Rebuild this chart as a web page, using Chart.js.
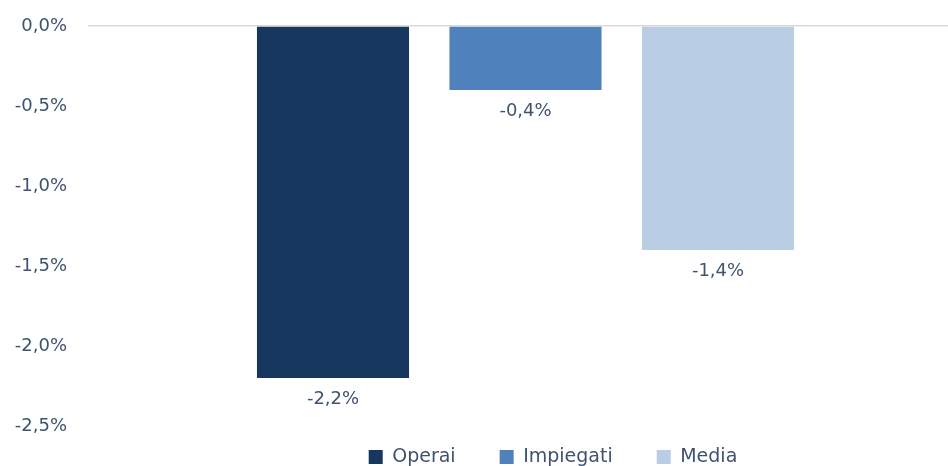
<!DOCTYPE html>
<html>
<head>
<meta charset="utf-8">
<script src="https://cdn.jsdelivr.net/npm/chart.js@4"></script>
<style>
html,body{margin:0;padding:0;background:#fff;overflow:hidden;}
#wrap{width:948px;height:466px;overflow:hidden;}
</style>
</head>
<body>
<div id="wrap"><canvas id="c" width="963" height="466"></canvas></div>
<script>
const categories = [''];
const seriesNames = ['Operai', 'Impiegati', 'Media'];
const operai = [-2.2];
const impiegati = [-0.4];
const media = [-1.4];
const yTicks = [0, -0.5, -1.0, -1.5, -2.0, -2.5];

const colors = ['#17375e', '#4f81bd', '#b9cde5'];
const textColor = '#3f5370';
const fontFamily = '"DejaVu Sans", Verdana, sans-serif';

const fmt = v => (Math.abs(v) < 1e-9 ? 0 : v).toFixed(1).replace('.', ',') + '%';

const labelPlugin = {
  id: 'barLabels',
  afterDatasetsDraw(chart) {
    const ctx = chart.ctx;
    ctx.save();
    ctx.font = '18px ' + fontFamily;
    ctx.fillStyle = textColor;
    ctx.textAlign = 'center';
    ctx.textBaseline = 'middle';
    chart.data.datasets.forEach((ds, i) => {
      const meta = chart.getDatasetMeta(i);
      meta.data.forEach((el, j) => {
        ctx.fillText(fmt(ds.data[j]), el.x, el.y + 21);
      });
    });
    ctx.restore();
  }
};

const legendShift = {
  id: 'legendShift',
  beforeDraw(chart) {
    const lg = chart.legend;
    if (!lg) return;
    const pad = lg.options.labels.padding;
    const targetCenterY = 457;
    const itemH = 19;
    lg.top = targetCenterY - itemH / 2 - pad;
    lg.bottom = chart.height;
    const w = lg.right - lg.left;
    const cx = 553;
    lg.left = cx - w / 2;
    lg.right = cx + w / 2;
  }
};

new Chart(document.getElementById('c'), {
  type: 'bar',
  data: {
    labels: categories,
    datasets: [
      { label: seriesNames[0], data: operai, backgroundColor: colors[0] },
      { label: seriesNames[1], data: impiegati, backgroundColor: colors[1] },
      { label: seriesNames[2], data: media, backgroundColor: colors[2] }
    ]
  },
  options: {
    responsive: false,
    animation: false,
    devicePixelRatio: 1,
    categoryPercentage: 0.66,
    barPercentage: 0.79,
    layout: { padding: { left: 15, right: 0, top: 26, bottom: 0 } },
    scales: {
      x: { display: false },
      y: {
        min: -2.5,
        max: 0,
        afterBuildTicks(scale) { scale.ticks = yTicks.map(v => ({ value: v })); },
        afterFit(scale) { scale.width = 73; scale.paddingTop = 0; scale.paddingBottom = 0; },
        ticks: {
          padding: 21,
          color: textColor,
          font: { family: fontFamily, size: 18 },
          callback: v => fmt(v)
        },
        grid: {
          drawTicks: false,
          lineWidth: 1.5,
          color: ctx => (ctx.tick && ctx.tick.value === 0 ? '#d9d9d9' : 'rgba(0,0,0,0)')
        },
        border: { display: false }
      }
    },
    plugins: {
      tooltip: { enabled: false },
      legend: {
        position: 'bottom',
        maxHeight: 40,
        labels: {
          boxWidth: 14,
          boxHeight: 14,
          padding: 44,
          color: textColor,
          font: { family: fontFamily, size: 19 }
        }
      }
    }
  },
  plugins: [labelPlugin, legendShift]
});
</script>
</body>
</html>
